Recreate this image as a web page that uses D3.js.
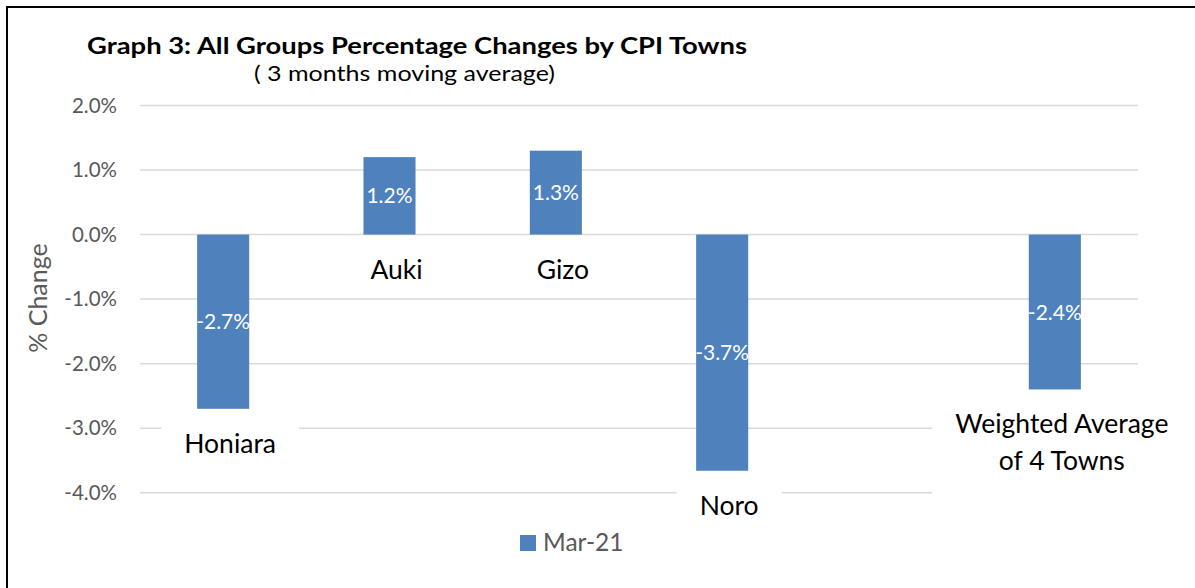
<!DOCTYPE html>
<html><head><meta charset="utf-8">
<script src="https://cdn.jsdelivr.net/npm/d3@7"></script>
<style>
body{margin:0;background:#fff}
svg{display:block}
text{font-family:Lato,"Open Sans","DejaVu Sans",sans-serif}
</style>
</head><body>
<svg id="c" width="1195" height="588"></svg>
<script>
// ---- data ----
const categories = ["Honiara", "Auki", "Gizo", "Noro", "", "Weighted Average of 4 Towns"];
const values = [-2.7, 1.2, 1.3, -3.66, null, -2.4];
const yTicks = [2, 1, 0, -1, -2, -3, -4];
const seriesName = "Mar-21";
const titleText = "Graph 3: All Groups Percentage Changes by CPI Towns";
const subtitleText = "( 3 months moving average)";
const yAxisTitle = "% Change";

// ---- layout ----
const W = 1195, H = 588;
const plot = {left: 140, right: 1138, top: 105.5, bottom: 492.7};
const barColor = "#4f81bd";
const gridColor = "#d9d9d9";
const axisText = "#595959";

const svg = d3.select("#c");
svg.append("rect").attr("width", W).attr("height", H).attr("fill", "#fff");

const x = d3.scaleBand().domain(d3.range(categories.length))
  .range([plot.left, plot.right]).paddingInner(0.687).paddingOuter(0.3435);
const y = d3.scaleLinear().domain([-4, 2]).range([plot.bottom, plot.top]);

// gridlines
svg.append("g").selectAll("line").data(yTicks).join("line")
  .attr("x1", plot.left).attr("x2", plot.right)
  .attr("y1", d => y(d)).attr("y2", d => y(d))
  .attr("stroke", gridColor).attr("stroke-width", 1.5);

// y axis tick labels via d3 axis
const yAxis = d3.axisLeft(y).tickValues(yTicks).tickSize(0).tickPadding(23)
  .tickFormat(d => d.toFixed(1) + "%");
const ga = svg.append("g").attr("transform", `translate(${plot.left},0)`).call(yAxis);
ga.select(".domain").remove();
ga.selectAll("text").attr("font-family", "Lato").attr("font-size", 20.5).attr("fill", axisText);

// category label boxes (white backgrounds) + labels
const catG = svg.append("g");
const catFont = 26.5;
const lineH = 37;
categories.forEach((c, i) => {
  if (!c) return;
  const v = values[i];
  const cx = x(i) + x.bandwidth() / 2 + 7;
  const base = Math.max(y(0), y(v)) + 44;
  const words = c.split(" ");
  const tmp = catG.append("text").attr("font-size", catFont);
  const lines = [];
  let cur = "";
  words.forEach(w => {
    const test = cur ? cur + " " + w : w;
    tmp.text(test);
    if (tmp.node().getComputedTextLength() > 216 && cur) { lines.push(cur); cur = w; }
    else cur = test;
  });
  lines.push(cur);
  let maxW = 0;
  lines.forEach(l => { tmp.text(l); maxW = Math.max(maxW, tmp.node().getComputedTextLength()); });
  tmp.remove();
  const top = base - 31;
  const bottom = base + (lines.length - 1) * lineH + 10 + lines.length * 8;
  catG.append("rect")
    .attr("x", cx - maxW / 2 - 23).attr("y", top)
    .attr("width", maxW + 46).attr("height", bottom - top)
    .attr("fill", "#fff");
  const t = catG.append("text").attr("font-size", catFont).attr("fill", "#000")
    .attr("text-anchor", "middle");
  lines.forEach((l, j) => t.append("tspan").attr("x", cx).attr("y", base + j * lineH).text(l));
});

// bars
const data = categories.map((c, i) => ({c, i, v: values[i]})).filter(d => d.v !== null);
svg.append("g").selectAll("rect").data(data).join("rect")
  .attr("x", d => x(d.i)).attr("width", x.bandwidth())
  .attr("y", d => Math.min(y(0), y(d.v)))
  .attr("height", d => Math.abs(y(d.v) - y(0)))
  .attr("fill", barColor);

// value labels
const vFont = 21;
svg.append("g").selectAll("text").data(data).join("text")
  .attr("x", d => x(d.i) + x.bandwidth() / 2)
  .attr("y", d => (y(0) + y(d.v)) / 2 + vFont * 0.36)
  .attr("text-anchor", "middle").attr("font-size", vFont).attr("fill", "#fff")
  .text(d => d.v.toFixed(1) + "%");

// y axis title
svg.append("text")
  .attr("transform", `translate(47,298) rotate(-90)`)
  .attr("text-anchor", "middle").attr("font-size", 25).attr("fill", axisText)
  .text(yAxisTitle);

// title
svg.append("text").attr("x", 87).attr("y", 54)
  .attr("font-size", 23).attr("font-weight", "bold").attr("fill", "#000")
  .attr("textLength", 660).attr("lengthAdjust", "spacingAndGlyphs")
  .text(titleText);
svg.append("text").attr("x", 254).attr("y", 81)
  .attr("font-size", 22).attr("fill", "#000")
  .attr("textLength", 301).attr("lengthAdjust", "spacingAndGlyphs")
  .text(subtitleText);

// legend
const lg = svg.append("g");
lg.append("rect").attr("x", 520).attr("y", 535).attr("width", 16).attr("height", 16).attr("fill", barColor);
lg.append("text").attr("x", 543).attr("y", 551).attr("font-size", 24.5).attr("fill", axisText).text(seriesName);

// outer border
svg.append("rect").attr("x", 7).attr("y", 7).attr("width", W + 20).attr("height", H + 20)
  .attr("fill", "none").attr("stroke", "#000").attr("stroke-width", 2);
</script>
</body></html>
